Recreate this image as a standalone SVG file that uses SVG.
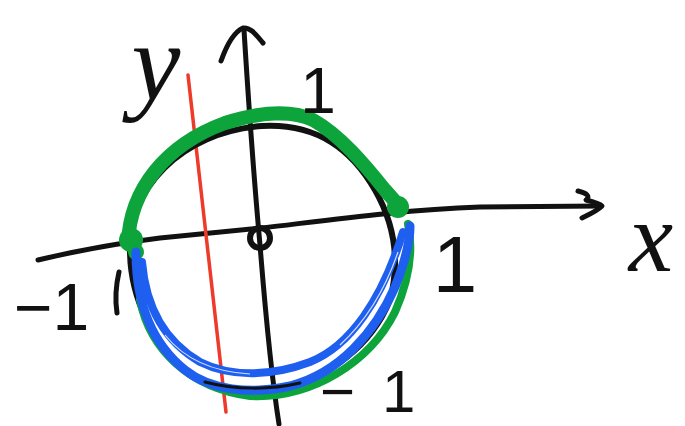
<svg xmlns="http://www.w3.org/2000/svg" width="685" height="426" viewBox="0 0 685 426">
  <style>
    .ink { fill: none; stroke: #111; stroke-linecap: round; stroke-linejoin: round; }
    .green { fill: none; stroke: #0ea43c; stroke-linecap: round; stroke-linejoin: round; }
    .blue { fill: none; stroke: #1f5ff0; stroke-linecap: round; stroke-linejoin: round; }
    .lbl { font-family: "Liberation Sans", Arial, sans-serif; fill: #111; }
    .var { font-family: "Liberation Serif", "Times New Roman", serif; font-style: italic; fill: #111; }
  </style>
  <rect width="685" height="426" fill="#ffffff"/>

  <!-- axes -->
  <g id="axes">
    <path class="ink" stroke-width="5" d="M38,260 C80,250 120,243 160,238 L262,228 C330,220 400,210 480,207 L601,206"/>
    <path class="ink" stroke-width="5" d="M578,191 C586,193 591,196 586,200 C594,202 600,204 602,206 C597,211 590,214 582,218"/>
    <path class="ink" stroke-width="5" d="M244,30 C249,110 255,190 260,245 C266,320 272,380 279,424"/>
    <path class="ink" stroke-width="5" d="M221,61 C226,47 234,32 243,28 C251,27 257,36 263,43"/>
    <ellipse class="ink" stroke-width="6" cx="260" cy="238" rx="10" ry="10"/>
  </g>

  <!-- red vertical line -->
  <g id="red-line">
    <path fill="none" stroke="#ee3a2a" stroke-width="3.5" stroke-linecap="round" d="M188,75 L226,412"/>
  </g>

  <!-- black circle -->
  <g id="circle">
    <path class="ink" stroke-width="6" d="M130,250 C128,190 180,132 262,126 C318,123 352,150 375,190 C395,225 400,262 390,300 C372,345 330,378 280,387 C240,393 205,388 185,370 C155,345 130,300 130,250 Z"/>
    <path class="ink" stroke-width="5" d="M119,272 C116,285 115,300 117,313"/>
  </g>

  <!-- green arcs -->
  <g id="green-arc">
    <path class="green" stroke-width="8" d="M140,300 C150,350 190,388 250,396 C312,399 370,362 395,312 C410,278 413,248 408,224"/>
    <path class="green" stroke-width="14" d="M128,243 C130,190 165,145 225,123 C260,112 292,110 313,120 C340,135 365,165 385,190 L400,207"/>
    <circle cx="131" cy="240" r="12" fill="#0ea43c"/>
    <circle cx="136" cy="252" r="8" fill="#0ea43c"/>
    <circle cx="398" cy="207" r="11" fill="#0ea43c"/>
  </g>

  <!-- blue arcs -->
  <g id="blue-arc">
    <path class="blue" stroke-width="9" d="M136,252 C136,300 150,342 185,370 C210,390 250,395 290,386 C340,373 375,332 395,287 C405,262 410,242 410,226"/>
    <path class="blue" stroke-width="8" d="M142,262 C146,310 166,342 200,362 C230,377 270,377 310,362 C350,346 382,300 403,232"/>
    <path fill="none" stroke="#ffffff" stroke-width="1.2" opacity="0.8" d="M165,335 C185,360 215,372 250,374 M340,345 C365,322 385,290 398,252"/>
    <path class="ink" stroke-width="3" d="M205,382 C235,390 270,390 300,383"/>
  </g>

  <!-- labels -->
  <g id="labels">
    <text class="var" x="156" y="100" font-size="110" text-anchor="middle">y</text>
    <text class="var" x="651" y="271" font-size="100" text-anchor="middle">x</text>
    <text class="lbl" x="318" y="113" font-size="64" text-anchor="middle">1</text>
    <text class="lbl" x="455" y="292" font-size="80" text-anchor="middle">1</text>
    <text class="lbl" x="14" y="330" font-size="66">−1</text>
    <text class="lbl" font-size="60"><tspan x="320" y="412">−</tspan><tspan x="382" y="412">1</tspan></text>
  </g>
</svg>
